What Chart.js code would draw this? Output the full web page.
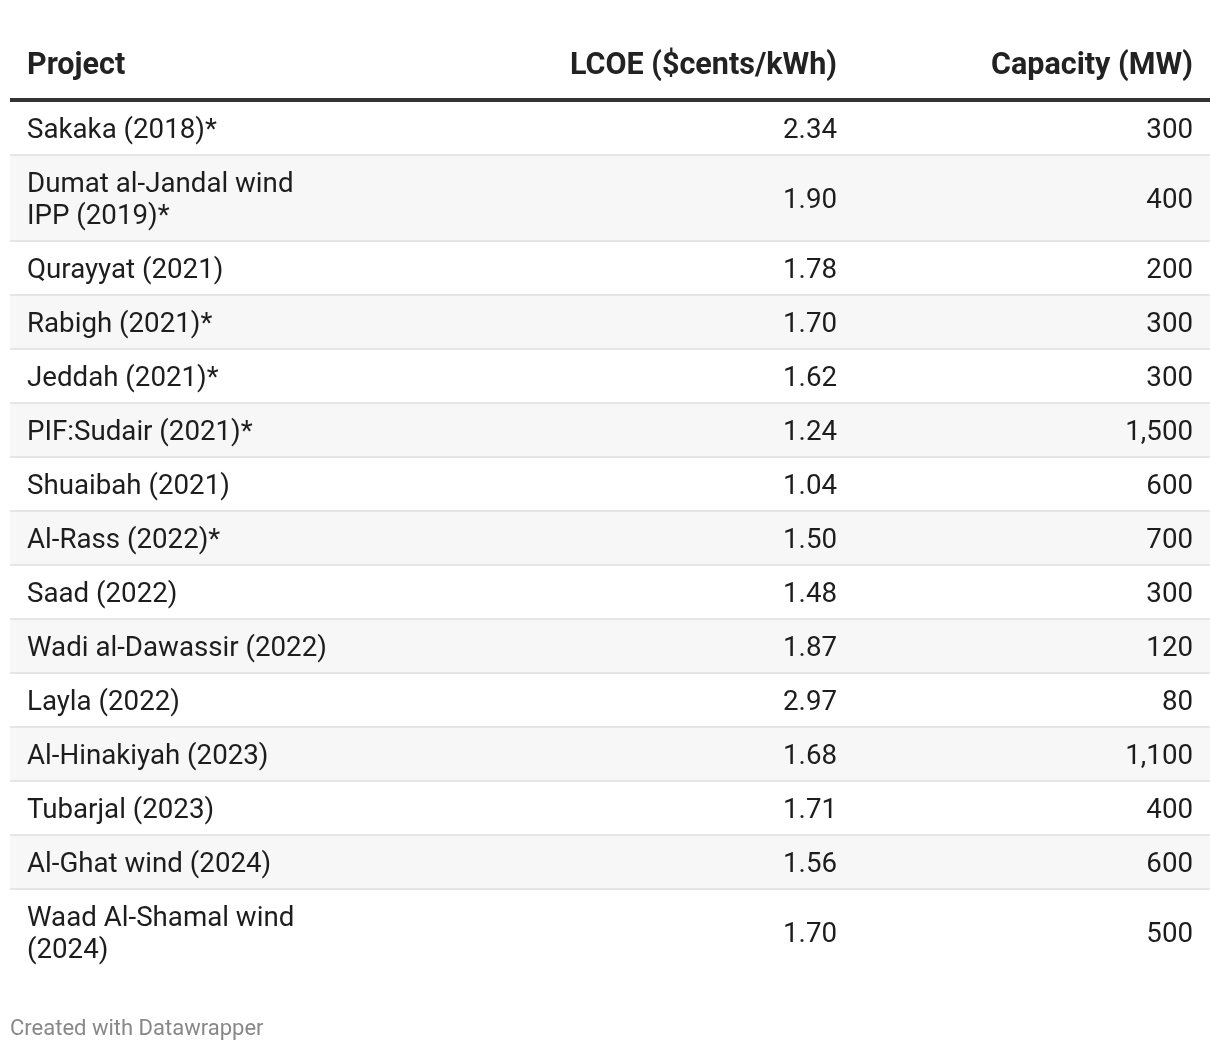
<!DOCTYPE html>
<html>
<head>
<meta charset="utf-8">
<script src="https://cdn.jsdelivr.net/npm/chart.js@4.4.1/dist/chart.umd.min.js"></script>
<style>
  html, body { margin: 0; background: #fff; }
  #wrap { width: 1220px; height: 1050px; position: relative; }
</style>
</head>
<body>
<div id="wrap"><canvas id="c"></canvas></div>
<script>
const headers = ["Project", "LCOE ($cents/kWh)", "Capacity (MW)"];

const projects = [
    "Sakaka (2018)*",
    ["Dumat al-Jandal wind", "IPP (2019)*"],
    "Qurayyat (2021)",
    "Rabigh (2021)*",
    "Jeddah (2021)*",
    "PIF:Sudair (2021)*",
    "Shuaibah (2021)",
    "Al-Rass (2022)*",
    "Saad (2022)",
    "Wadi al-Dawassir (2022)",
    "Layla (2022)",
    "Al-Hinakiyah (2023)",
    "Tubarjal (2023)",
    "Al-Ghat wind (2024)",
    ["Waad Al-Shamal wind", "(2024)"]
];
const lcoe = [2.34, 1.90, 1.78, 1.70, 1.62, 1.24, 1.04, 1.50, 1.48, 1.87, 2.97, 1.68, 1.71, 1.56, 1.70];
const capacity = [300, 400, 200, 300, 300, 1500, 600, 700, 300, 120, 80, 1100, 400, 600, 500];

const footer = "Created with Datawrapper";

// row extents in "line" units: one unit per text line plus cell padding
const cellPad = 22 / 32;
const rows = [];
let pos = 0;
projects.forEach((p, i) => {
    const lines = Array.isArray(p) ? p : [p];
    const h = lines.length + cellPad;
    rows.push({ start: pos, end: pos + h, lines: lines, lcoe: lcoe[i], cap: capacity[i] });
    pos += h;
});
const total = pos;

const font = "Roboto, 'Noto Sans', sans-serif";

const tablePlugin = {
    id: "table",
    beforeDraw(chart) {
        const { ctx, chartArea: a, scales: { y } } = chart;
        ctx.save();
        ctx.fillStyle = "#fff";
        ctx.fillRect(0, 0, chart.width, chart.height);
        rows.forEach((r, i) => {
            const top = y.getPixelForValue(r.start);
            const bottom = y.getPixelForValue(r.end);
            if (i % 2 === 1) {
                ctx.fillStyle = "#f7f7f7";
                ctx.fillRect(a.left, top, a.width, bottom - top);
            }
            if (i < rows.length - 1) {
                ctx.fillStyle = "#e6e6e6";
                ctx.fillRect(a.left, bottom - 2, a.width, 2);
            }
        });
        ctx.fillStyle = "#333";
        ctx.fillRect(a.left, a.top - 4, a.width, 4);
        ctx.restore();
    },
    afterDraw(chart) {
        const { ctx, chartArea: a, scales: { x, y } } = chart;
        const colProject = x.getPixelForValue(17);
        const colLcoe = x.getPixelForValue(827);
        const colCap = x.getPixelForValue(1183);
        const dy = 2;
        ctx.save();
        ctx.textBaseline = "middle";

        // header
        ctx.fillStyle = "#222";
        ctx.font = "bold 30.5px " + font;
        const hy = a.top - 38 + dy;
        ctx.textAlign = "left";
        ctx.fillText(headers[0], colProject, hy);
        ctx.textAlign = "right";
        ctx.fillText(headers[1], colLcoe, hy);
        ctx.fillText(headers[2], colCap, hy);

        // body
        ctx.font = "27.7px " + font;
        ctx.fillStyle = "#1d1d1d";
        rows.forEach(r => {
            const mid = (r.start + r.end) / 2;
            const cy = y.getPixelForValue(mid) + dy;
            ctx.textAlign = "left";
            r.lines.forEach((line, k) => {
                const ly = y.getPixelForValue(mid - (r.lines.length - 1) / 2 + k) + dy;
                ctx.fillText(line, colProject, ly);
            });
            ctx.textAlign = "right";
            ctx.fillText(r.lcoe.toFixed(2), colLcoe, cy);
            ctx.fillText(r.cap.toLocaleString("en-US"), colCap, cy);
        });

        // footer
        ctx.font = "22px " + font;
        ctx.fillStyle = "#888";
        ctx.textAlign = "left";
        ctx.fillText(footer, a.left, a.bottom + 51 + dy);
        ctx.restore();
    }
};

new Chart(document.getElementById("c"), {
    type: "scatter",
    data: { datasets: [] },
    options: {
        responsive: true,
        maintainAspectRatio: false,
        animation: false,
        layout: { padding: { top: 102, left: 10, right: 10, bottom: 1050 - 102 - total * 32 } },
        plugins: { legend: { display: false }, tooltip: { enabled: false } },
        scales: {
            x: { type: "linear", min: 0, max: 1200, display: false },
            y: { type: "linear", min: 0, max: total, reverse: true, display: false }
        }
    },
    plugins: [tablePlugin]
});
</script>
</body>
</html>
